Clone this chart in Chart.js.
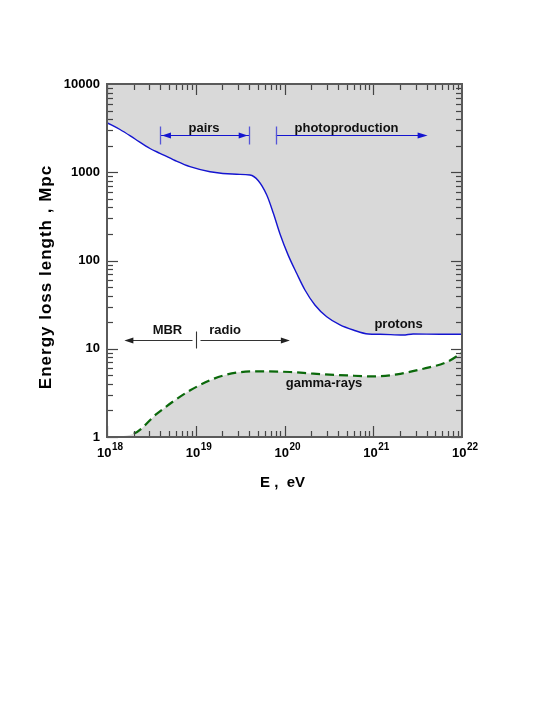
<!DOCTYPE html>
<html>
<head>
<meta charset="utf-8">
<script src="https://cdn.jsdelivr.net/npm/chart.js@4.4.0/dist/chart.umd.min.js"></script>
<style>
  html, body { margin: 0; padding: 0; background: #fff; }
  canvas { display: block; }
</style>
</head>
<body>
<canvas id="chart" width="545" height="705"></canvas>
<script>
// ==================== DATOS ====================
// protones: energía (eV) y longitud de pérdida (Mpc)
const protonE = [1.0e18, 1.40e18, 2.07e18, 3.05e18, 3.95e18, 5.83e18, 8.61e18, 1.45e19, 2.89e19,
                 4.08e19, 5.07e19, 6.31e19, 7.49e19, 8.90e19, 1.10e20, 1.37e20, 1.70e20, 2.20e20,
                 2.99e20, 4.22e20, 5.96e20, 8.79e20, 1.19e21, 2.17e21, 2.81e21, 5.62e21, 1.0e22];
const protonL = [3643, 3051, 2381, 1858, 1640, 1359, 1156, 1014, 948,
                 931, 802, 552, 343, 200, 115, 71.6, 46.3, 31.3,
                 23.0, 18.6, 16.3, 14.7, 14.6, 14.3, 14.7, 14.6, 14.6];

// rayos gamma (primer punto solo cierra el relleno)
const gammaE = [1.0e18, 2.0e18, 3.66e18, 8.67e18, 2.06e19, 4.89e19, 1.16e20, 2.12e20,
                5.05e20, 1.0e21, 1.85e21, 3.67e21, 6.75e21, 1.0e22];
const gammaL = [1.0, 1.09, 1.84, 3.38, 4.99, 5.55, 5.45, 5.22,
                4.99, 4.86, 5.13, 5.94, 7.06, 8.98];

const yTickValues = [1, 10, 100, 1000, 10000];
const xTickExponents = [18, 19, 20, 21, 22];

// anotaciones
const pairsRange = [4e18, 4e19];
const photoRange = [8e19, 4.1e21];
const arrowLevelTop = 2640;
const mbrRange = [1.57e18, 1.15e20];
const mbrSplit = 1e19;
const mbrLevel = 12.6;

const noteTexts = ['pairs', 'photoproduction', 'MBR', 'radio', 'protons', 'gamma-rays'];
const noteE = [1.24e19, 5.0e20, 4.8e18, 2.14e19, 1.93e21, 2.79e20];
const noteL = [2880, 2880, 14.6, 14.6, 17.1, 3.66];

// ==================== ESTILO ====================
const FONT = '"Liberation Sans", Arial, Helvetica, sans-serif';
const GREY = '#d9d9d9';
const BLUE = '#1414d0';
const GREEN = '#0b690b';

function seg(ctx, x1, y1, x2, y2) {
    ctx.beginPath();
    ctx.moveTo(x1, y1);
    ctx.lineTo(x2, y2);
    ctx.stroke();
}

function arrowHead(ctx, tipX, y, dir, len, half) {
    ctx.beginPath();
    ctx.moveTo(tipX, y);
    ctx.lineTo(tipX - dir * len, y - half);
    ctx.lineTo(tipX - dir * len, y + half);
    ctx.closePath();
    ctx.fill();
}

// marco, ticks hacia dentro, etiquetas y flechas
const frameAndNotes = {
    id: 'frameAndNotes',
    afterDatasetsDraw(chart) {
        const { ctx, chartArea: a, scales: { x, y } } = chart;
        ctx.save();

        // ticks
        ctx.strokeStyle = '#444';
        ctx.lineWidth = 1.2;
        for (let e = 18; e < 22; e++) {
            for (let m = 1; m <= 9; m++) {
                const px = Math.round(x.getPixelForValue(m * Math.pow(10, e))) + 0.5;
                const len = m === 1 ? 11 : 6;
                seg(ctx, px, a.bottom, px, a.bottom - len);
                seg(ctx, px, a.top, px, a.top + len);
            }
        }
        for (let e = 0; e < 4; e++) {
            for (let m = 1; m <= 9; m++) {
                const py = Math.round(y.getPixelForValue(m * Math.pow(10, e))) + 0.5;
                const len = m === 1 ? 11 : 6;
                seg(ctx, a.left, py, a.left + len, py);
                seg(ctx, a.right, py, a.right - len, py);
            }
        }

        // marco
        ctx.strokeStyle = '#5a5a5a';
        ctx.lineWidth = 2;
        ctx.strokeRect(a.left, a.top, a.right - a.left, a.bottom - a.top);

        // etiquetas del eje x con exponente
        ctx.fillStyle = '#000';
        ctx.textBaseline = 'alphabetic';
        ctx.textAlign = 'left';
        for (const ex of xTickExponents) {
            const px = x.getPixelForValue(Math.pow(10, ex));
            ctx.font = 'bold 13px ' + FONT;
            const w = ctx.measureText('10').width;
            ctx.fillText('10', px - 10, 457);
            ctx.font = 'bold 10px ' + FONT;
            ctx.fillText(String(ex), px - 10 + w + 0.5, 450);
        }

        // títulos
        ctx.font = 'bold 15px ' + FONT;
        ctx.textAlign = 'center';
        ctx.fillText('E ,  eV', 282.5, 487);
        ctx.save();
        ctx.font = 'bold 17px ' + FONT;
        ctx.letterSpacing = '1px';
        ctx.translate(51, 277);
        ctx.rotate(-Math.PI / 2);
        ctx.fillText('Energy loss length , Mpc', 0, 0);
        ctx.restore();

        // flechas pairs / photoproduction
        const yTop = Math.round(y.getPixelForValue(arrowLevelTop)) + 0.5;
        const p1 = x.getPixelForValue(pairsRange[0]);
        const p2 = x.getPixelForValue(pairsRange[1]);
        const f1 = x.getPixelForValue(photoRange[0]);
        const f2 = x.getPixelForValue(photoRange[1]);
        ctx.strokeStyle = BLUE;
        ctx.fillStyle = BLUE;
        ctx.lineWidth = 1;
        seg(ctx, p1, yTop, p2, yTop);
        seg(ctx, f1, yTop, f2 - 4, yTop);
        arrowHead(ctx, p1 + 1.5, yTop, -1, 9, 3);
        arrowHead(ctx, p2 - 1.5, yTop, 1, 9, 3);
        arrowHead(ctx, f2, yTop, 1, 10, 3);
        ctx.strokeStyle = '#5555d8';
        ctx.lineWidth = 1.3;
        for (const bx of [p1, p2, f1]) {
            seg(ctx, Math.round(bx) + 0.5, yTop - 9, Math.round(bx) + 0.5, yTop + 9);
        }

        // flecha MBR / radio
        const yMbr = Math.round(y.getPixelForValue(mbrLevel)) + 0.5;
        const m1 = x.getPixelForValue(mbrRange[0]);
        const m2 = x.getPixelForValue(mbrRange[1]);
        const ms = Math.round(x.getPixelForValue(mbrSplit)) + 0.5;
        ctx.strokeStyle = '#333';
        ctx.fillStyle = '#222';
        ctx.lineWidth = 1.1;
        seg(ctx, m1 + 4, yMbr, ms - 4, yMbr);
        seg(ctx, ms + 4, yMbr, m2 - 4, yMbr);
        arrowHead(ctx, m1, yMbr, -1, 9, 3);
        arrowHead(ctx, m2, yMbr, 1, 9, 3);
        seg(ctx, ms, yMbr - 9, ms, yMbr + 8);

        // textos
        ctx.fillStyle = '#111';
        ctx.font = 'bold 13px ' + FONT;
        ctx.textAlign = 'center';
        noteTexts.forEach((t, i) => {
            ctx.fillText(t, x.getPixelForValue(noteE[i]), y.getPixelForValue(noteL[i]));
        });

        ctx.restore();
    }
};

// ==================== CHART ====================
const chart = new Chart(document.getElementById('chart').getContext('2d'), {
    type: 'line',
    data: {
        datasets: [{
            label: 'protons',
            data: protonE.map((e, i) => ({ x: e, y: protonL[i] })),
            borderColor: BLUE,
            borderWidth: 1.4,
            pointRadius: 0,
            fill: 'end',
            backgroundColor: GREY,
            cubicInterpolationMode: 'monotone'
        }, {
            label: 'gamma-rays',
            data: gammaE.map((e, i) => ({ x: e, y: gammaL[i] })),
            borderColor: GREEN,
            borderWidth: 2.2,
            borderDash: [9, 5],
            pointRadius: 0,
            fill: 'start',
            backgroundColor: GREY,
            cubicInterpolationMode: 'monotone',
            segment: {
                borderColor: c => c.p0DataIndex === 0 ? 'rgba(0,0,0,0)' : undefined
            }
        }]
    },
    options: {
        responsive: false,
        animation: false,
        devicePixelRatio: 1,
        layout: { padding: { top: 84, right: 83, left: 0, bottom: 0 } },
        plugins: {
            legend: { display: false },
            tooltip: { enabled: false }
        },
        scales: {
            x: {
                type: 'logarithmic',
                min: 1e18,
                max: 1e22,
                ticks: { display: false },
                grid: { display: false, drawTicks: false },
                border: { display: false },
                afterFit: s => { s.height = 268; }
            },
            y: {
                type: 'logarithmic',
                min: 1,
                max: 10000,
                afterBuildTicks: s => { s.ticks = yTickValues.map(v => ({ value: v })); },
                ticks: {
                    callback: v => String(v),
                    color: '#000',
                    padding: 7,
                    font: { family: FONT, size: 13, weight: 'bold' }
                },
                grid: { display: false, drawTicks: false },
                border: { display: false },
                afterFit: s => { s.width = 107; }
            }
        }
    },
    plugins: [frameAndNotes]
});
</script>
</body>
</html>
